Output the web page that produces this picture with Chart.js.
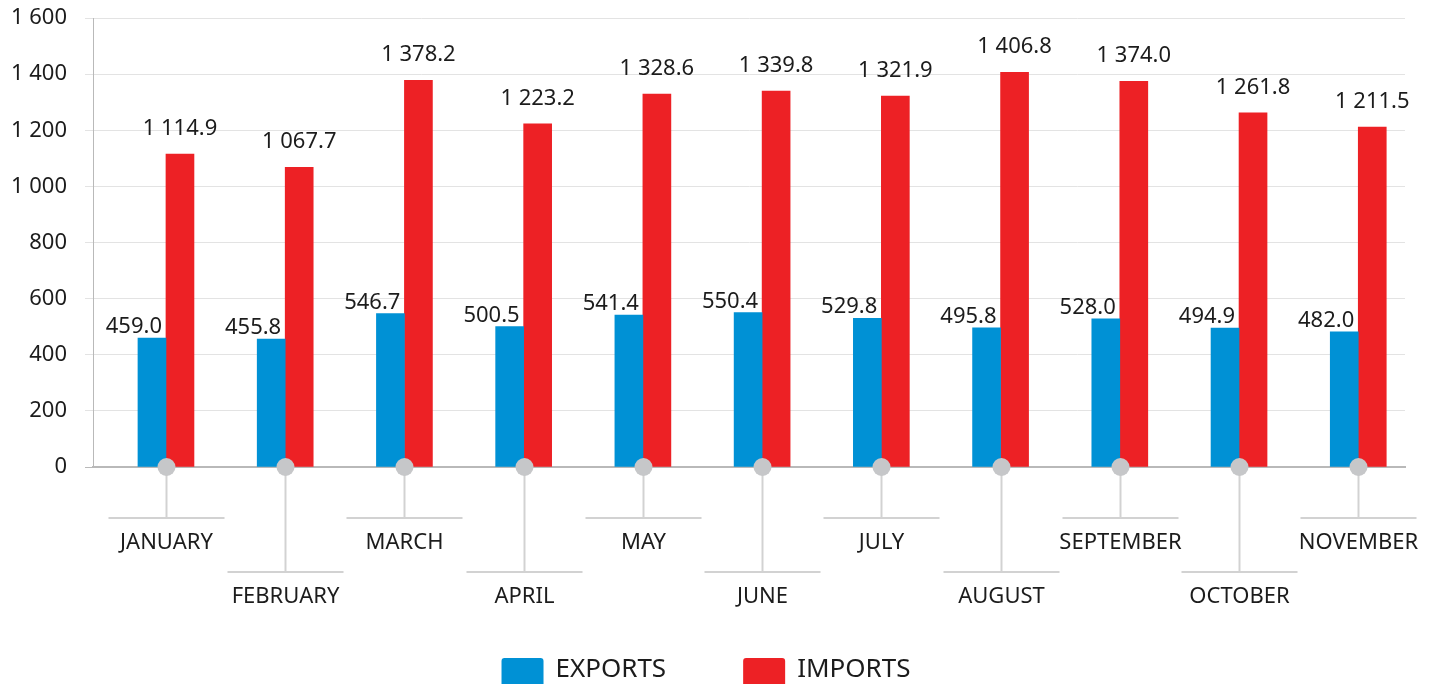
<!DOCTYPE html>
<html>
<head>
<meta charset="utf-8">
<script src="https://cdn.jsdelivr.net/npm/chart.js@4.4.1/dist/chart.umd.min.js"></script>
<style>
html,body{margin:0;padding:0;background:#fff;overflow:hidden;}
#wrap{width:1437px;height:684px;position:relative;}
canvas{display:block;}
</style>
</head>
<body>
<div id="wrap"><canvas id="c" width="1437" height="684"></canvas></div>
<script>
// ---- data ----
const months = ['JANUARY','FEBRUARY','MARCH','APRIL','MAY','JUNE','JULY','AUGUST','SEPTEMBER','OCTOBER','NOVEMBER'];
const exportsVals = [459.0, 455.8, 546.7, 500.5, 541.4, 550.4, 529.8, 495.8, 528.0, 494.9, 482.0];
const importsVals = [1114.9, 1067.7, 1378.2, 1223.2, 1328.6, 1339.8, 1321.9, 1406.8, 1374.0, 1261.8, 1211.5];
const seriesNames = ['EXPORTS', 'IMPORTS'];
const yTickLabels = ['0','200','400','600','800','1 000','1 200','1 400','1 600'];

const seriesColors = ['#0091d5', '#ed2125'];
const FONT = '"Noto Sans", "Open Sans", sans-serif';
const TEXT = '#1c1c1c';

function fmt(v) {
  const s = v.toFixed(1);
  const [ip, dp] = s.split('.');
  return ip.replace(/\B(?=(\d{3})+(?!\d))/g, ' ') + '.' + dp;
}

const overlay = {
  id: 'overlay',
  afterDatasetsDraw(chart) {
    const ctx = chart.ctx;
    const xs = chart.scales.x, ys = chart.scales.y;
    const base = ys.getPixelForValue(0);
    ctx.save();
    // value labels
    ctx.fillStyle = TEXT;
    ctx.font = '22px ' + FONT;
    ctx.textBaseline = 'alphabetic';
    chart.getDatasetMeta(1).data.forEach((bar, i) => {
      ctx.textAlign = 'center';
      ctx.fillText(fmt(importsVals[i]), bar.x, bar.y - 19);
    });
    chart.getDatasetMeta(0).data.forEach((bar, i) => {
      ctx.textAlign = 'right';
      ctx.fillText(fmt(exportsVals[i]), bar.x + bar.width / 2 - 4, bar.y - 5);
    });
    // category connectors and labels
    months.forEach((m, i) => {
      const px = Math.round(xs.getPixelForValue(i)) + 0.5;
      const low = i % 2 === 1;
      const ly = base + (low ? 105 : 51);
      ctx.strokeStyle = '#d2d2d2';
      ctx.lineWidth = 2;
      ctx.beginPath();
      ctx.moveTo(px, base);
      ctx.lineTo(px, ly);
      ctx.stroke();
      ctx.beginPath();
      ctx.moveTo(px - 58, ly);
      ctx.lineTo(px + 58, ly);
      ctx.stroke();
      ctx.fillStyle = '#c6c7c9';
      ctx.beginPath();
      ctx.arc(px, base, 9, 0, Math.PI * 2);
      ctx.fill();
      ctx.fillStyle = TEXT;
      ctx.font = '22px ' + FONT;
      ctx.textAlign = 'center';
      ctx.textBaseline = 'middle';
      ctx.fillText(m, px, ly + 25);
    });
    // legend
    ctx.font = '26px ' + FONT;
    ctx.textAlign = 'left';
    ctx.textBaseline = 'alphabetic';
    const boxW = 42, gapT = 12, gapItem = 77;
    const widths = seriesNames.map(n => ctx.measureText(n).width);
    const total = widths.reduce((a, w) => a + boxW + gapT + w, 0) + gapItem * (seriesNames.length - 1);
    let lx = 706 - total / 2;
    const ltop = 658;
    seriesNames.forEach((n, k) => {
      ctx.fillStyle = seriesColors[k];
      ctx.beginPath();
      ctx.roundRect(lx, ltop, boxW, 30, 3);
      ctx.fill();
      ctx.fillStyle = TEXT;
      ctx.fillText(n, lx + boxW + gapT, ltop + 19);
      lx += boxW + gapT + widths[k] + gapItem;
    });
    ctx.restore();
  }
};

new Chart(document.getElementById('c'), {
  type: 'bar',
  data: {
    datasets: [
      { label: seriesNames[0], data: exportsVals.map((v, i) => ({ x: i, y: v })), backgroundColor: seriesColors[0], barThickness: 28 },
      { label: seriesNames[1], data: importsVals.map((v, i) => ({ x: i, y: v })), backgroundColor: seriesColors[1], barThickness: 28 }
    ]
  },
  options: {
    responsive: false,
    animation: false,
    devicePixelRatio: 1,
    layout: { padding: { top: 18, right: 32, bottom: 217, left: 0 } },
    plugins: { legend: { display: false }, tooltip: { enabled: false } },
    scales: {
      x: {
        type: 'linear',
        min: -0.612,
        max: 10.392,
        offset: false,
        ticks: { display: false },
        grid: { display: false, drawTicks: false },
        border: { display: true, color: '#b9b9b9', width: 2 }
      },
      y: {
        min: 0,
        max: 1600,
        ticks: {
          stepSize: 200,
          padding: 18,
          color: TEXT,
          font: { family: FONT, size: 22 },
          callback: (v, idx) => yTickLabels[idx]
        },
        grid: {
          color: ctx => ctx.tick && ctx.tick.value === 0 ? '#b9b9b9' : '#e3e3e3',
          lineWidth: 1,
          tickLength: 8
        },
        border: { display: true, color: '#b9b9b9', width: 1 },
        afterFit: s => { s.width = 93; s.paddingTop = 0; s.paddingBottom = 0; }
      }
    }
  },
  plugins: [overlay]
});
</script>
</body>
</html>
